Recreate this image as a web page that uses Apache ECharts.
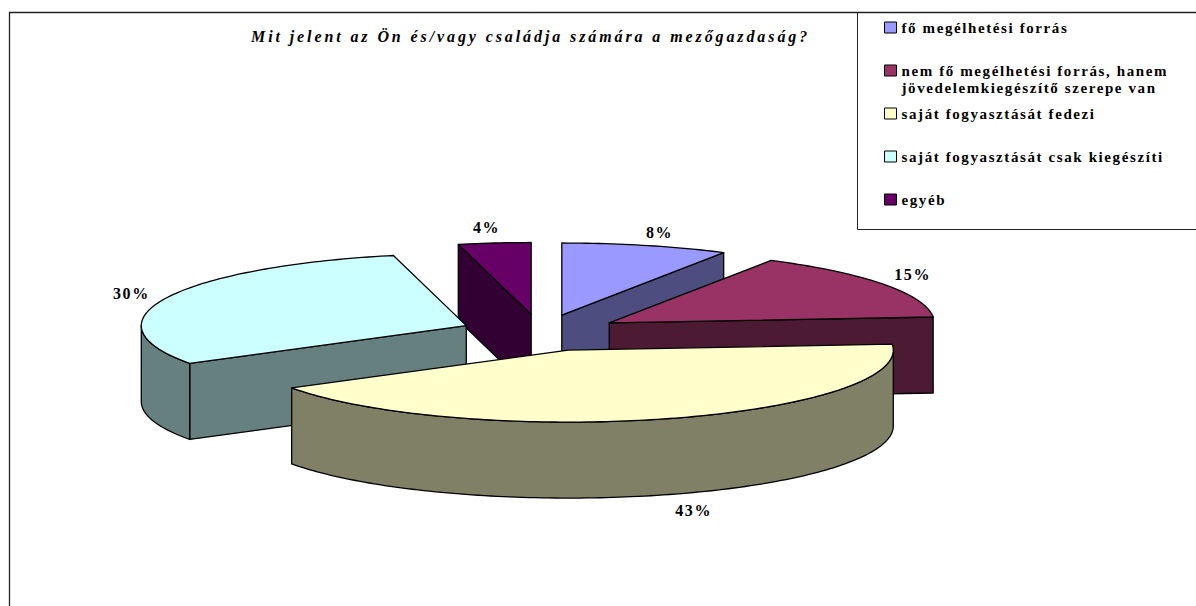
<!DOCTYPE html>
<html>
<head>
<meta charset="utf-8">
<title>Mezőgazdaság</title>
<script src="https://cdn.jsdelivr.net/npm/echarts@6/dist/echarts.min.js"></script>
<style>
  html, body { margin: 0; padding: 0; background: #fff; }
  #main { width: 1196px; height: 606px; }
  /* szövegritkítás, mint az eredeti ábrán */
  #main text { letter-spacing: 1.6px; }
  #main text[style*="italic"] { letter-spacing: 2.9px; }
</style>
</head>
<body>
<div id="main"></div>
<script>
const chartTitle = 'Mit jelent az Ön és/vagy családja számára a mezőgazdaság?';
const categories = [
  'fő megélhetési forrás',
  'nem fő megélhetési forrás, hanem\njövedelemkiegészítő szerepe van',
  'saját fogyasztását fedezi',
  'saját fogyasztását csak kiegészíti',
  'egyéb'
];
const values = [8.3, 15.4, 42.5, 30.2, 3.6];
const topColors = ['#9999ff', '#993366', '#ffffcc', '#ccffff', '#660066'];
const sideColors = ['#4d4d80', '#4d1a33', '#808066', '#668080', '#330033'];

// rajzolási sorrend hátulról előre
const drawOrder = [4, 0, 1, 3, 2];

// a "3D" kör méretei
const cx = 540.5, cy = 332.7, rx = 325, ry = 72, depth = 76, explode = 82.6;
const sliceNudge = [0, -1, 2, 2, 0];
const labelOffsets = [[14, -13], [29, -10], [24, 16], [-35, -4], [-8, -15]];
const legendTops = [20, 63, 106, 149, 192];

const total = values.reduce((a, b) => a + b, 0);
const toAngle = (v) => echarts.number.linearMap(v, [0, total], [0, Math.PI * 2]);

const sliceItem = (index) => (params, api) => {
  const value = api.value(0);
  const start = toAngle(values.slice(0, index).reduce((a, b) => a + b, 0));
  const end = start + toAngle(value);
  const mid = (start + end) / 2;
  const ax = cx + sliceNudge[index] + explode * Math.sin(mid);
  const ay = cy - explode * (ry / rx) * Math.cos(mid);
  const at = (t) => [ax + rx * Math.sin(t), ay - ry * Math.cos(t)];
  const arc = (a, b) => {
    const n = Math.max(2, Math.ceil((b - a) / 0.02));
    const pts = [];
    for (let i = 0; i <= n; i++) pts.push(at(a + (b - a) * i / n));
    return pts;
  };
  const line = { stroke: '#000', lineWidth: 1.3, lineJoin: 'round' };
  const poly = (points, fill, z2) => ({ type: 'polygon', z2, shape: { points }, style: { fill, ...line } });
  const wall = (p) => [[ax, ay], p, [p[0], p[1] + depth], [ax, ay + depth]];
  const children = [];

  // belső falak, csak ha a néző felé néznek
  const pStart = at(start), pEnd = at(end);
  if (pStart[0] < ax - 0.5) children.push(poly(wall(pStart), sideColors[index], 1));
  if (pEnd[0] > ax + 0.5) children.push(poly(wall(pEnd), sideColors[index], 1));

  // külső palást
  const rimFrom = Math.max(start, Math.PI / 2);
  const rimTo = Math.min(end, Math.PI * 1.5);
  if (rimTo > rimFrom) {
    const upper = arc(rimFrom, rimTo);
    const lower = upper.map((p) => [p[0], p[1] + depth]).reverse();
    children.push(poly(upper.concat(lower), sideColors[index], 2));
  }

  // fedőlap
  children.push(poly([[ax, ay]].concat(arc(start, end)), topColors[index], 3));

  // százalék felirat
  const rim = at(mid);
  const lowerHalf = Math.cos(mid) < 0;
  children.push({
    type: 'text',
    z2: 4,
    style: {
      x: rim[0] + labelOffsets[index][0],
      y: rim[1] + labelOffsets[index][1] + (lowerHalf ? depth : 0),
      text: Math.round(value) + '%',
      align: 'center',
      verticalAlign: 'middle',
      fill: '#000',
      font: 'bold 16px "Liberation Serif"'
    }
  });
  return { type: 'group', children };
};

const chart = echarts.init(document.getElementById('main'), null, { renderer: 'svg' });

chart.setOption({
  animation: false,
  backgroundColor: '#fff',
  title: {
    text: chartTitle,
    left: 251,
    top: 28,
    padding: 0,
    textStyle: { fontFamily: 'Liberation Serif', fontSize: 16, fontWeight: 'bold', fontStyle: 'italic', color: '#000' }
  },
  legend: categories.map((name, i) => ({
    data: [{ name, icon: 'rect', itemStyle: { color: topColors[i], borderColor: '#000', borderWidth: 1 } }],
    left: 884,
    top: legendTops[i],
    padding: 0,
    itemWidth: 12,
    itemHeight: 11,
    selectedMode: false,
    formatter: (n) => n.split('\n')[0],
    textStyle: { fontFamily: 'Liberation Serif', fontSize: 15, fontWeight: 'bold', color: '#000', padding: 0 }
  })),
  graphic: [
    { type: 'polyline', silent: true, shape: { points: [[9.5, 606], [9.5, 12.5], [1196, 12.5]] }, style: { stroke: '#222', lineWidth: 1.3, fill: 'none' } },
    { type: 'polyline', silent: true, shape: { points: [[857.5, 12.5], [857.5, 229.5], [1196, 229.5]] }, style: { stroke: '#222', lineWidth: 1, fill: 'none' } },
    { type: 'text', silent: true, style: { x: 901.5, y: 88, text: categories[1].split('\n')[1], verticalAlign: 'middle', fill: '#000', font: 'bold 15px "Liberation Serif"' } }
  ],
  series: categories.map((name, i) => ({
    type: 'custom',
    name,
    coordinateSystem: 'none',
    silent: true,
    z: 2 + drawOrder.indexOf(i),
    data: [values[i]],
    renderItem: sliceItem(i)
  }))
});
</script>
</body>
</html>
